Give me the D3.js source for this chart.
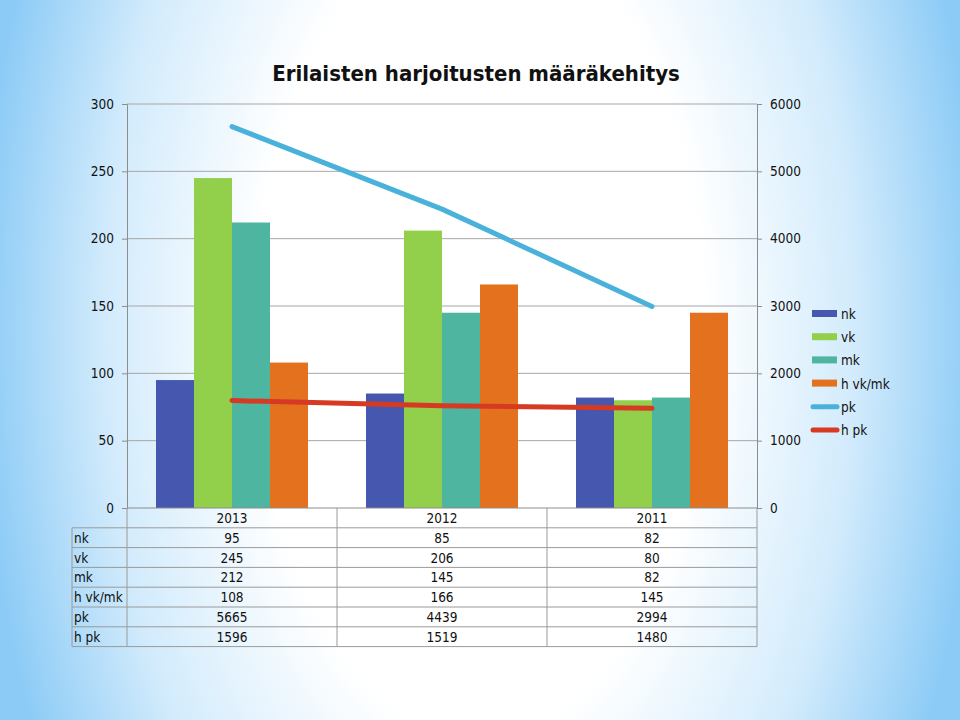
<!DOCTYPE html>
<html><head><meta charset="utf-8">
<script src="https://cdn.jsdelivr.net/npm/d3@7"></script>
<style>body{margin:0;}svg{display:block;}</style>
</head><body>
<script>
const categories = ["2013", "2012", "2011"];
const barSeries = ["nk", "vk", "mk", "h vk/mk"];
const nk = [95, 85, 82];
const vk = [245, 206, 80];
const mk = [212, 145, 82];
const hvkmk = [108, 166, 145];
const lineSeries = ["pk", "h pk"];
const pk = [5665, 4439, 2994];
const hpk = [1596, 1519, 1480];
const leftTicks = [0, 50, 100, 150, 200, 250, 300];
const rightTicks = [0, 1000, 2000, 3000, 4000, 5000, 6000];
const title = "Erilaisten harjoitusten määräkehitys";

(function () {
const barValues = [nk, vk, mk, hvkmk];
const lineValues = [pk, hpk];
const barColors = ["#4557AE", "#92CF4A", "#4DB5A0", "#E3711E"];
const lineColors = ["#4AB2DA", "#D73A22"];

const W = 960, H = 720;
const svg = d3.select("body").append("svg").attr("width", W).attr("height", H);
const defs = svg.append("defs");
const rg = defs.append("radialGradient").attr("id", "bg")
  .attr("gradientUnits", "userSpaceOnUse")
  .attr("cx", 480).attr("cy", 330).attr("r", 500)
  .attr("gradientTransform", "translate(480,330) scale(1,1.8) translate(-480,-330)");
rg.append("stop").attr("offset", 0).attr("stop-color", "#ffffff");
rg.append("stop").attr("offset", 0.45).attr("stop-color", "#ffffff");
rg.append("stop").attr("offset", 0.75).attr("stop-color", "#d2ebfc");
rg.append("stop").attr("offset", 1).attr("stop-color", "#8ccbf6");
svg.append("rect").attr("width", W).attr("height", H).attr("fill", "url(#bg)");

const font = "'DejaVu Sans Condensed', 'DejaVu Sans', sans-serif";
const pLeft = 127, pRight = 757, pTop = 104, pBottom = 508;

const x = d3.scaleBand().domain(categories).range([pLeft, pRight]).paddingInner(0).paddingOuter(0);
const yL = d3.scaleLinear().domain([0, 300]).range([pBottom, pTop]);
const yR = d3.scaleLinear().domain([0, 6000]).range([pBottom, pTop]);
const groupPad = (x.bandwidth() - 152) / 2;
const xs = d3.scaleBand().domain(barSeries).range([groupPad, x.bandwidth() - groupPad]).padding(0);

svg.append("text").attr("x", 476).attr("y", 81).attr("text-anchor", "middle")
  .attr("font-family", font).attr("font-weight", "bold").attr("font-size", 22)
  .attr("fill", "#111").text(title);

// gridlines
svg.append("g").selectAll("line").data(leftTicks.filter(d => d > 0)).join("line")
  .attr("x1", pLeft).attr("x2", pRight).attr("y1", d => yL(d)).attr("y2", d => yL(d))
  .attr("stroke", "#a6a6a6").attr("stroke-width", 1);

// axes
const axL = svg.append("g").attr("transform", `translate(${pLeft},0)`)
  .call(d3.axisLeft(yL).tickValues(leftTicks).tickSize(5).tickPadding(8));
const axR = svg.append("g").attr("transform", `translate(${pRight},0)`)
  .call(d3.axisRight(yR).tickValues(rightTicks).tickSize(5).tickPadding(8).tickFormat(d3.format("d")));
[axL, axR].forEach(a => {
  a.selectAll("path,line").attr("stroke", "#8c8c8c");
  a.selectAll("text").attr("font-family", font).attr("font-size", 13.5).attr("fill", "#111");
});

// bars
const gBars = svg.append("g");
barSeries.forEach((s, i) => {
  gBars.append("g").selectAll("rect").data(categories).join("rect")
    .attr("x", c => x(c) + xs(s)).attr("width", xs.bandwidth())
    .attr("y", (c, j) => yL(barValues[i][j]))
    .attr("height", (c, j) => pBottom - yL(barValues[i][j]))
    .attr("fill", barColors[i]);
});

// lines
lineSeries.forEach((s, i) => {
  const line = d3.line().x((d, j) => x(categories[j]) + x.bandwidth() / 2).y(d => yR(d));
  svg.append("path").datum(lineValues[i]).attr("d", line)
    .attr("fill", "none").attr("stroke", lineColors[i]).attr("stroke-width", 5)
    .attr("stroke-linecap", "round").attr("stroke-linejoin", "round");
});

// bottom axis line
svg.append("line").attr("x1", pLeft).attr("x2", pRight).attr("y1", pBottom).attr("y2", pBottom)
  .attr("stroke", "#8c8c8c");

// data table
const rowH = 19.8;
const labelLeft = 72;
const tbl = svg.append("g");
const rows = barSeries.concat(lineSeries);
const allVals = barValues.concat(lineValues);
const nRows = rows.length;
const tableBottom = pBottom + rowH * (nRows + 1);
for (let r = 1; r <= nRows + 1; r++) {
  tbl.append("line").attr("x1", labelLeft).attr("x2", pRight)
    .attr("y1", pBottom + r * rowH).attr("y2", pBottom + r * rowH)
    .attr("stroke", "#9a9a9a");
}
tbl.append("line").attr("x1", labelLeft).attr("x2", labelLeft)
  .attr("y1", pBottom + rowH).attr("y2", tableBottom).attr("stroke", "#9a9a9a");
[pLeft].concat(categories.map(c => x(c) + x.bandwidth())).forEach(xx => {
  tbl.append("line").attr("x1", xx).attr("x2", xx).attr("y1", pBottom).attr("y2", tableBottom)
    .attr("stroke", "#9a9a9a");
});
tbl.selectAll("text.h").data(categories).join("text").attr("class", "h")
  .attr("x", c => x(c) + x.bandwidth() / 2).attr("y", pBottom + rowH / 2 + 5)
  .attr("text-anchor", "middle").attr("font-family", font).attr("font-size", 13.5).attr("fill", "#111")
  .text(d => d);
rows.forEach((s, r) => {
  const yy = pBottom + (r + 1) * rowH + rowH / 2 + 5;
  tbl.append("text").attr("x", labelLeft + 2).attr("y", yy)
    .attr("font-family", font).attr("font-size", 13.5).attr("fill", "#111").text(s);
  categories.forEach((c, j) => {
    tbl.append("text").attr("x", x(c) + x.bandwidth() / 2).attr("y", yy)
      .attr("text-anchor", "middle").attr("font-family", font).attr("font-size", 13.5).attr("fill", "#111")
      .text(allVals[r][j]);
  });
});

// legend
const lg = svg.append("g");
rows.forEach((s, i) => {
  const yy = 314 + i * 23.2;
  if (i < 4) {
    lg.append("rect").attr("x", 812).attr("y", yy - 4).attr("width", 25).attr("height", 7).attr("fill", barColors[i]);
  } else {
    lg.append("line").attr("x1", 813).attr("x2", 837).attr("y1", yy).attr("y2", yy)
      .attr("stroke", lineColors[i - 4]).attr("stroke-width", 5).attr("stroke-linecap", "round");
  }
  lg.append("text").attr("x", 841).attr("y", yy + 5).attr("font-family", font)
    .attr("font-size", 13.5).attr("fill", "#111").text(s);
});
})();
</script>
</body></html>
